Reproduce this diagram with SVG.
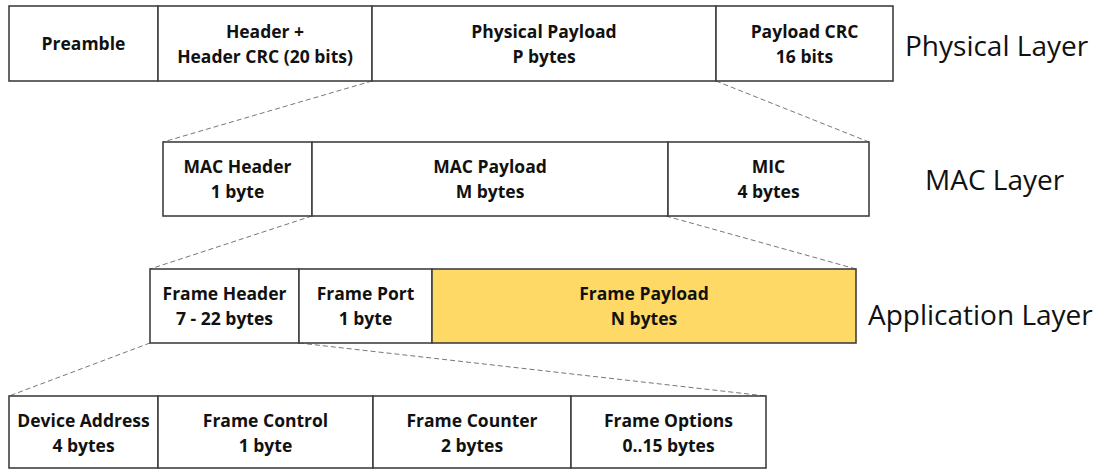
<svg xmlns="http://www.w3.org/2000/svg" width="1101" height="470" viewBox="0 0 1101 470">
<style>
.b{fill:#fff;stroke:#404040;stroke-width:1.6}
.y{fill:#FFD966;stroke:#404040;stroke-width:1.6}
.t{font-family:"Open Sans",Lato,sans-serif;font-weight:bold;font-size:17.5px;fill:#111;text-anchor:middle}
.L{font-family:"Open Sans",Lato,sans-serif;font-size:28px;fill:#111}
.d{stroke:#777;stroke-width:1;stroke-dasharray:5,3;fill:none}
</style>
<rect width="1101" height="470" fill="#fff"/>
<g id="connectors">
<line class="d" x1="372" y1="81" x2="163" y2="142"/>
<line class="d" x1="716" y1="81" x2="869" y2="142"/>
<line class="d" x1="312" y1="216" x2="150" y2="269"/>
<line class="d" x1="666" y1="216" x2="856" y2="269"/>
<line class="d" x1="150" y1="343" x2="9" y2="396"/>
<line class="d" x1="299" y1="343" x2="766" y2="396"/>
</g>
<g id="preamble"><rect class="b" x="9" y="6" width="149" height="75"/><text class="t" x="83.5" y="50">Preamble</text></g>
<g id="header"><rect class="b" x="158" y="6" width="214" height="75"/><text class="t" x="265" y="38">Header +</text><text class="t" x="265" y="63">Header CRC (20 bits)</text></g>
<g id="phys-payload"><rect class="b" x="372" y="6" width="344" height="75"/><text class="t" x="544" y="38">Physical Payload</text><text class="t" x="544" y="63">P bytes</text></g>
<g id="payload-crc"><rect class="b" x="716" y="6" width="177" height="75"/><text class="t" x="804.5" y="38">Payload CRC</text><text class="t" x="804.5" y="63">16 bits</text></g>
<g id="physical-layer"><text class="L" x="905" y="56">Physical Layer</text></g>

<g id="mac-header"><rect class="b" x="163" y="142" width="149" height="74"/><text class="t" x="237.5" y="173">MAC Header</text><text class="t" x="237.5" y="198">1 byte</text></g>
<g id="mac-payload"><rect class="b" x="312" y="142" width="356" height="74"/><text class="t" x="490" y="173">MAC Payload</text><text class="t" x="490" y="198">M bytes</text></g>
<g id="mic"><rect class="b" x="668" y="142" width="201" height="74"/><text class="t" x="768.5" y="173">MIC</text><text class="t" x="768.5" y="198">4 bytes</text></g>
<g id="mac-layer"><text class="L" x="925" y="190">MAC Layer</text></g>

<g id="frame-header"><rect class="b" x="150" y="269" width="149" height="74"/><text class="t" x="224.5" y="300">Frame Header</text><text class="t" x="224.5" y="325">7 - 22 bytes</text></g>
<g id="frame-port"><rect class="b" x="299" y="269" width="133" height="74"/><text class="t" x="365.5" y="300">Frame Port</text><text class="t" x="365.5" y="325">1 byte</text></g>
<g id="frame-payload"><rect class="y" x="432" y="269" width="424" height="74"/><text class="t" x="644" y="300">Frame Payload</text><text class="t" x="644" y="325">N bytes</text></g>
<g id="application-layer"><text class="L" x="868" y="325">Application Layer</text></g>

<g id="device-address"><rect class="b" x="9" y="396" width="149" height="72"/><text class="t" x="83.5" y="427">Device Address</text><text class="t" x="83.5" y="452">4 bytes</text></g>
<g id="frame-control"><rect class="b" x="158" y="396" width="215" height="72"/><text class="t" x="265.5" y="427">Frame Control</text><text class="t" x="265.5" y="452">1 byte</text></g>
<g id="frame-counter"><rect class="b" x="373" y="396" width="198" height="72"/><text class="t" x="472" y="427">Frame Counter</text><text class="t" x="472" y="452">2 bytes</text></g>
<g id="frame-options"><rect class="b" x="571" y="396" width="195" height="72"/><text class="t" x="668.5" y="427">Frame Options</text><text class="t" x="668.5" y="452">0..15 bytes</text></g>
</svg>
